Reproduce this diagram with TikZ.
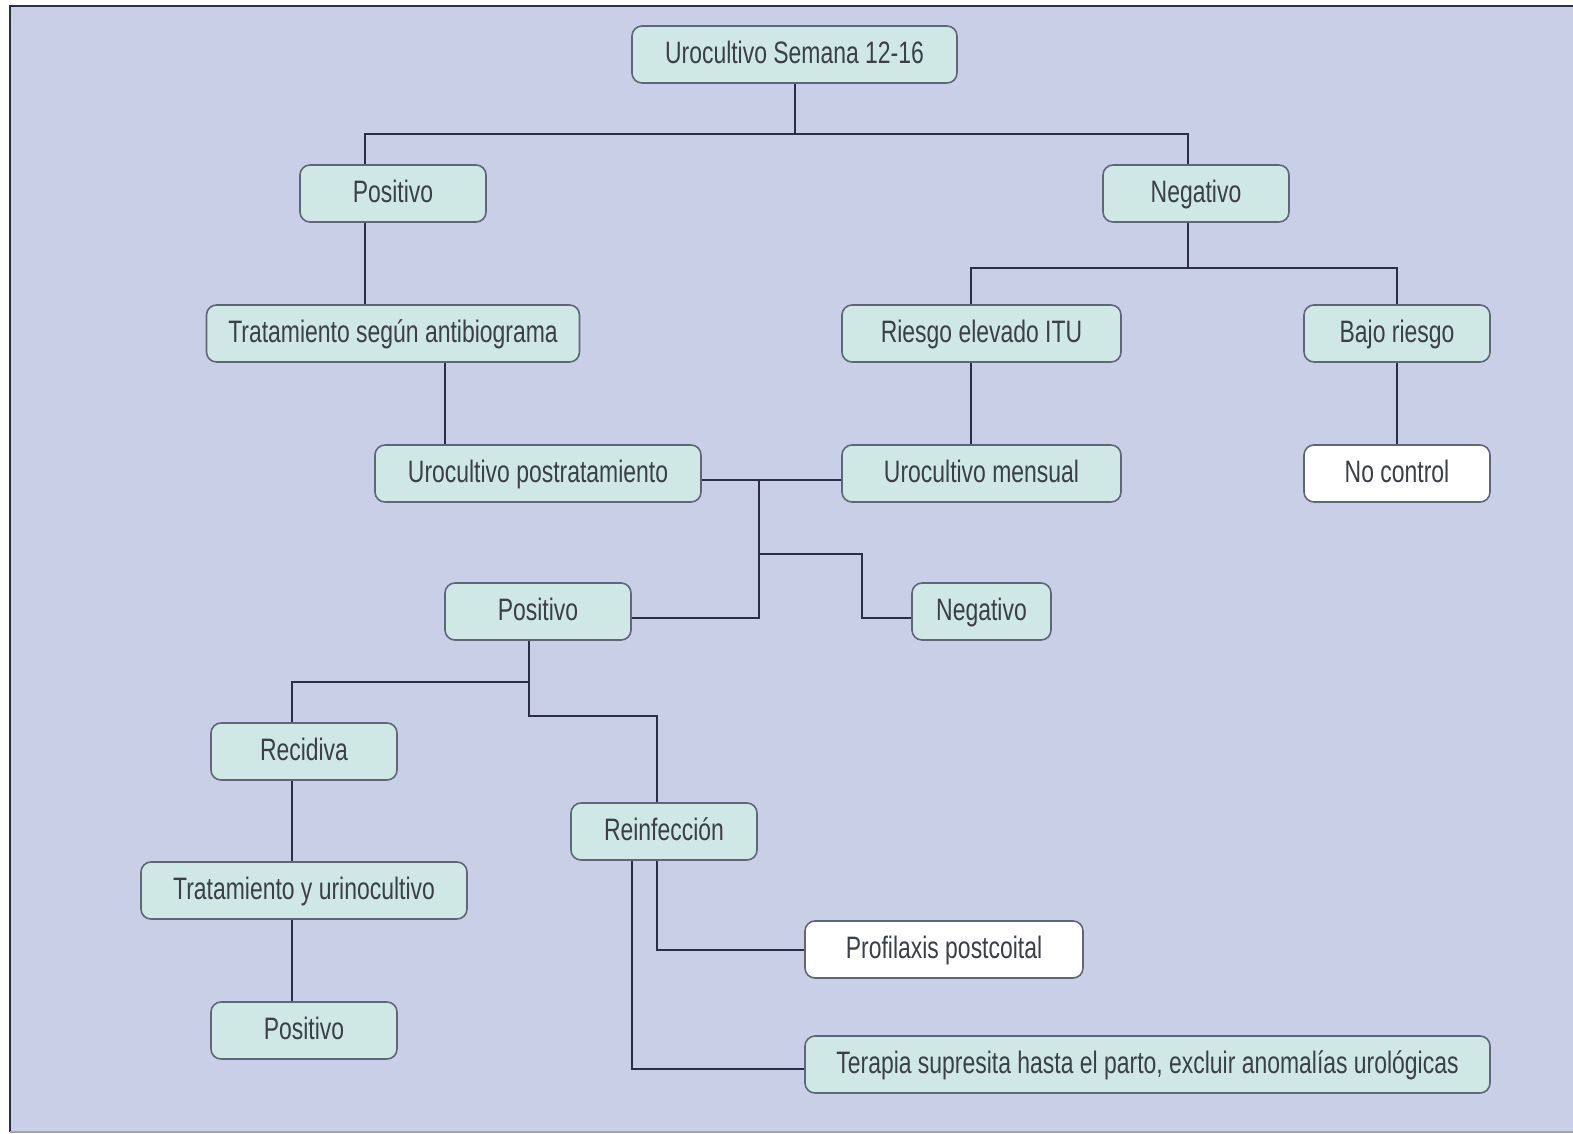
\documentclass[tikz,border=0pt]{standalone}
\usepackage{fontspec}
\setmainfont{Liberation Sans}[FakeStretch=0.74]
\usetikzlibrary{calc}
\definecolor{bgc}{HTML}{CACFE8}
\definecolor{boxc}{HTML}{CFE8E6}
\definecolor{edgec}{HTML}{5F6675}
\definecolor{linec}{HTML}{2B2F45}
\definecolor{txtc}{HTML}{3A3F48}
\begin{document}
\begin{tikzpicture}[x=1pt,y=-1pt,
  box/.style={draw=edgec, fill=boxc, line width=1.6pt, rounded corners=10pt,
    minimum height=57pt, inner sep=0pt, text=txtc, text height=22pt, text depth=4pt,
    font=\fontsize{31}{34}\selectfont},
  wbox/.style={box, fill=white},
  conn/.style={draw=linec, line width=2pt}]
\useasboundingbox (0,0) rectangle (1573,1134);
\fill[white] (0,0) rectangle (1573,1134);
\fill[bgc] (10,6) rectangle (1573,1132);
\draw[linec, line width=2pt] (1573,6) -- (10,6) -- (10,1132);
\draw[gray!70, line width=1.5pt] (10,1132) -- (1573,1132);

\node[box, minimum width=325pt] (root) at (794.5,54.5) {Urocultivo Semana 12-16};
\node[box, minimum width=186pt] (p1) at (393,193.5) {Positivo};
\node[box, minimum width=186pt] (n1) at (1196,193.5) {Negativo};
\node[box, minimum width=373pt] (t1) at (393,333.5) {Tratamiento según antibiograma};
\node[box, minimum width=279pt] (ri) at (981.5,333.5) {Riesgo elevado ITU};
\node[box, minimum width=186pt] (ba) at (1397,333.5) {Bajo riesgo};
\node[box, minimum width=326pt] (u1) at (538,473.5) {Urocultivo postratamiento};
\node[box, minimum width=279pt] (um) at (981.5,473.5) {Urocultivo mensual};
\node[wbox, minimum width=186pt] (nc) at (1397,473.5) {No control};
\node[box, minimum width=186pt] (p2) at (538,611.5) {Positivo};
\node[box, minimum width=139pt] (n2) at (981.5,611.5) {Negativo};
\node[box, minimum width=186pt] (rec) at (304,751.5) {Recidiva};
\node[box, minimum width=186pt] (rei) at (664,831.5) {Reinfección};
\node[box, minimum width=326pt] (tu) at (304,890.5) {Tratamiento y urinocultivo};
\node[wbox, minimum width=278pt] (pro) at (944,949.5) {Profilaxis postcoital};
\node[box, minimum width=186pt] (p3) at (304,1030.5) {Positivo};
\node[box, minimum width=685pt] (ter) at (1147.5,1064.5) {Terapia supresita hasta el parto, excluir anomalías urológicas};

% top split
\draw[conn] (root.south) -- ++(0,50) coordinate (j1);
\draw[conn] ([xshift=-28pt]p1.north) |- (j1) -| ([xshift=-8pt]n1.north);
\draw[conn] ([xshift=-28pt]p1.south) -- ([xshift=-28pt]t1.north);
% negativo split
\draw[conn] ([xshift=-8pt]n1.south) -- ++(0,45) coordinate (j2);
\draw[conn] ([xshift=-11pt]ri.north) |- (j2) -| (ba.north);
\draw[conn] ([xshift=52pt]t1.south) -- ([xshift=52pt]t1.south |- u1.north);
\draw[conn] ([xshift=-11pt]ri.south) -- ([xshift=-11pt]um.north);
\draw[conn] (ba.south) -- (nc.north);
% postratamiento / mensual
\draw[conn] ([yshift=-6pt]u1.east) -- ([yshift=-6pt]um.west);
\coordinate (j3) at ($([yshift=-6pt]u1.east)+(57,0)$);
\draw[conn] (j3) |- ([yshift=-6pt]p2.east);
\coordinate (j4) at ($(j3)+(0,74)$);
\draw[conn] (j4) -- ++(103,0) |- ([yshift=-6pt]n2.west);
% positivo split
\draw[conn] ([xshift=-9pt]p2.south) -- ++(0,41) coordinate (j5);
\draw[conn] ([xshift=-12pt]rec.north) |- (j5);
\draw[conn] (j5) -- ++(0,34) -| ([xshift=-7pt]rei.north);
\draw[conn] ([xshift=-12pt]rec.south) -- ([xshift=-12pt]tu.north);
\draw[conn] ([xshift=-12pt]tu.south) -- ([xshift=-12pt]p3.north);
% reinfeccion
\draw[conn] ([xshift=-7pt]rei.south) |- (pro.west);
\draw[conn] ([xshift=-32pt]rei.south) |- ([yshift=-4pt]ter.west);
\end{tikzpicture}
\end{document}
